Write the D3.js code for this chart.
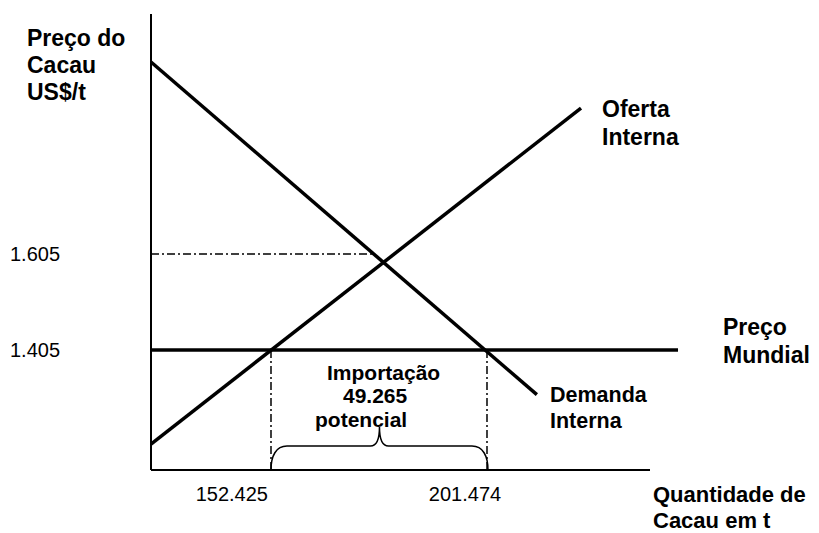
<!DOCTYPE html>
<html>
<head>
<meta charset="utf-8">
<script src="https://cdn.jsdelivr.net/npm/d3@7"></script>
<style>
  html, body { margin: 0; padding: 0; background: #fff; }
  svg { display: block; }
  text { font-family: "Liberation Sans", Arial, sans-serif; fill: #000; }
</style>
</head>
<body>
<svg id="chart" width="819" height="533"></svg>
<script>
// ---- data ----
const qRange = [125176, 238488];          // quantity axis (t)
const pRange = [1155, 2105];              // price axis (US$/t)
const demanda = [{ q: 125176, p: 2005 }, { q: 212800, p: 1312 }];
const oferta  = [{ q: 125176, p: 1209 }, { q: 222819, p: 1909 }];
const precoMundial = 1405;
const precoMundialEnd = 244850;
const precoEquilibrio = 1605;
const qTicks = [152425, 201474];
const qTickLabels = ["152.425", "201.474"];
const pTicks = [1605, 1405];
const pTickLabels = ["1.605", "1.405"];
const importacao = 49265;
const importacaoLabel = ["Importação", "49.265", "potencial"];

// ---- scales ----
const svg = d3.select("#chart");
const x = d3.scaleLinear().domain(qRange).range([151, 650]);
const y = d3.scaleLinear().domain(pRange).range([470, 14]);
const line = d3.line().x(d => x(d.q)).y(d => y(d.p));

// dash-dot reference lines
const dashDot = "8,3,2,3";
const dSlope = (demanda[1].p - demanda[0].p) / (demanda[1].q - demanda[0].q);
const qAt1605 = demanda[0].q + (precoEquilibrio - demanda[0].p) / dSlope;
svg.append("path")
  .attr("d", line([{ q: qRange[0], p: precoEquilibrio }, { q: qAt1605, p: precoEquilibrio }]))
  .attr("stroke", "#000").attr("stroke-width", 1.5).attr("fill", "none")
  .attr("stroke-dasharray", dashDot);
qTicks.forEach(q => {
  svg.append("path")
    .attr("d", line([{ q: q, p: pRange[0] }, { q: q, p: precoMundial }]))
    .attr("stroke", "#000").attr("stroke-width", 1.5).attr("fill", "none")
    .attr("stroke-dasharray", dashDot);
});

// axes
svg.append("path")
  .attr("d", line([{ q: qRange[0], p: pRange[0] }, { q: qRange[0], p: pRange[1] }]))
  .attr("stroke", "#000").attr("stroke-width", 2).attr("fill", "none");
svg.append("path")
  .attr("d", line([{ q: qRange[0], p: pRange[0] }, { q: qRange[1], p: pRange[0] }]))
  .attr("stroke", "#000").attr("stroke-width", 2).attr("fill", "none");

// world price
svg.append("path")
  .attr("d", line([{ q: qRange[0], p: precoMundial }, { q: precoMundialEnd, p: precoMundial }]))
  .attr("stroke", "#000").attr("stroke-width", 3.5).attr("fill", "none");

// demand & supply
svg.append("path").attr("d", line(demanda))
  .attr("stroke", "#000").attr("stroke-width", 3.5).attr("fill", "none");
svg.append("path").attr("d", line(oferta))
  .attr("stroke", "#000").attr("stroke-width", 3.5).attr("fill", "none");

// brace for importação
(function () {
  const x1 = x(qTicks[0]), x2 = x(qTicks[0] + importacao), yb = y(pRange[0]);
  const mid = (x1 + x2) / 2, h = yb - 24, tip = yb - 43;
  const p = d3.path();
  p.moveTo(x1, yb);
  p.bezierCurveTo(x1, yb - 14, x1 + 5, h, x1 + 16, h);
  p.lineTo(mid - 9, h);
  p.bezierCurveTo(mid - 3, h, mid, h - 7, mid, tip);
  p.bezierCurveTo(mid, h - 7, mid + 3, h, mid + 9, h);
  p.lineTo(x2 - 16, h);
  p.bezierCurveTo(x2 - 5, h, x2, yb - 14, x2, yb);
  svg.append("path").attr("d", p.toString())
    .attr("stroke", "#000").attr("stroke-width", 1.5).attr("fill", "none");
})();

// tick labels
const tickFont = 20;
svg.append("text").attr("x", x(qTicks[0]) - 3).attr("y", 501)
  .attr("text-anchor", "end").attr("font-size", tickFont).text(qTickLabels[0]);
svg.append("text").attr("x", x(qTicks[1]) - 22).attr("y", 501)
  .attr("text-anchor", "middle").attr("font-size", tickFont).text(qTickLabels[1]);
pTicks.forEach((p, i) => {
  svg.append("text").attr("x", 10).attr("y", y(p) + 7)
    .attr("font-size", tickFont).text(pTickLabels[i]);
});

// bold labels
function label(lines, x0, y0, size, lh) {
  const t = svg.append("text").attr("font-weight", "bold").attr("font-size", size);
  lines.forEach((s, i) => t.append("tspan").attr("x", x0).attr("y", y0 + i * lh).text(s));
}
label(["Preço do", "Cacau", "US$/t"], 27, 46, 23, 27);
label(["Oferta", "Interna"], 602, 117, 23, 28);
label(["Preço", "Mundial"], 723, 335, 23, 28);
label(["Demanda", "Interna"], 550, 402, 21.5, 26);
label(["Quantidade de", "Cacau em t"], 653, 502, 22, 26);

// importação labels
const imp = svg.append("text").attr("font-weight", "bold").attr("font-size", 21);
imp.append("tspan").attr("x", 327).attr("y", 380).text(importacaoLabel[0]);
imp.append("tspan").attr("x", 343).attr("y", 403).text(importacaoLabel[1]);
imp.append("tspan").attr("x", 315).attr("y", 427).text(importacaoLabel[2]);
</script>
</body>
</html>
